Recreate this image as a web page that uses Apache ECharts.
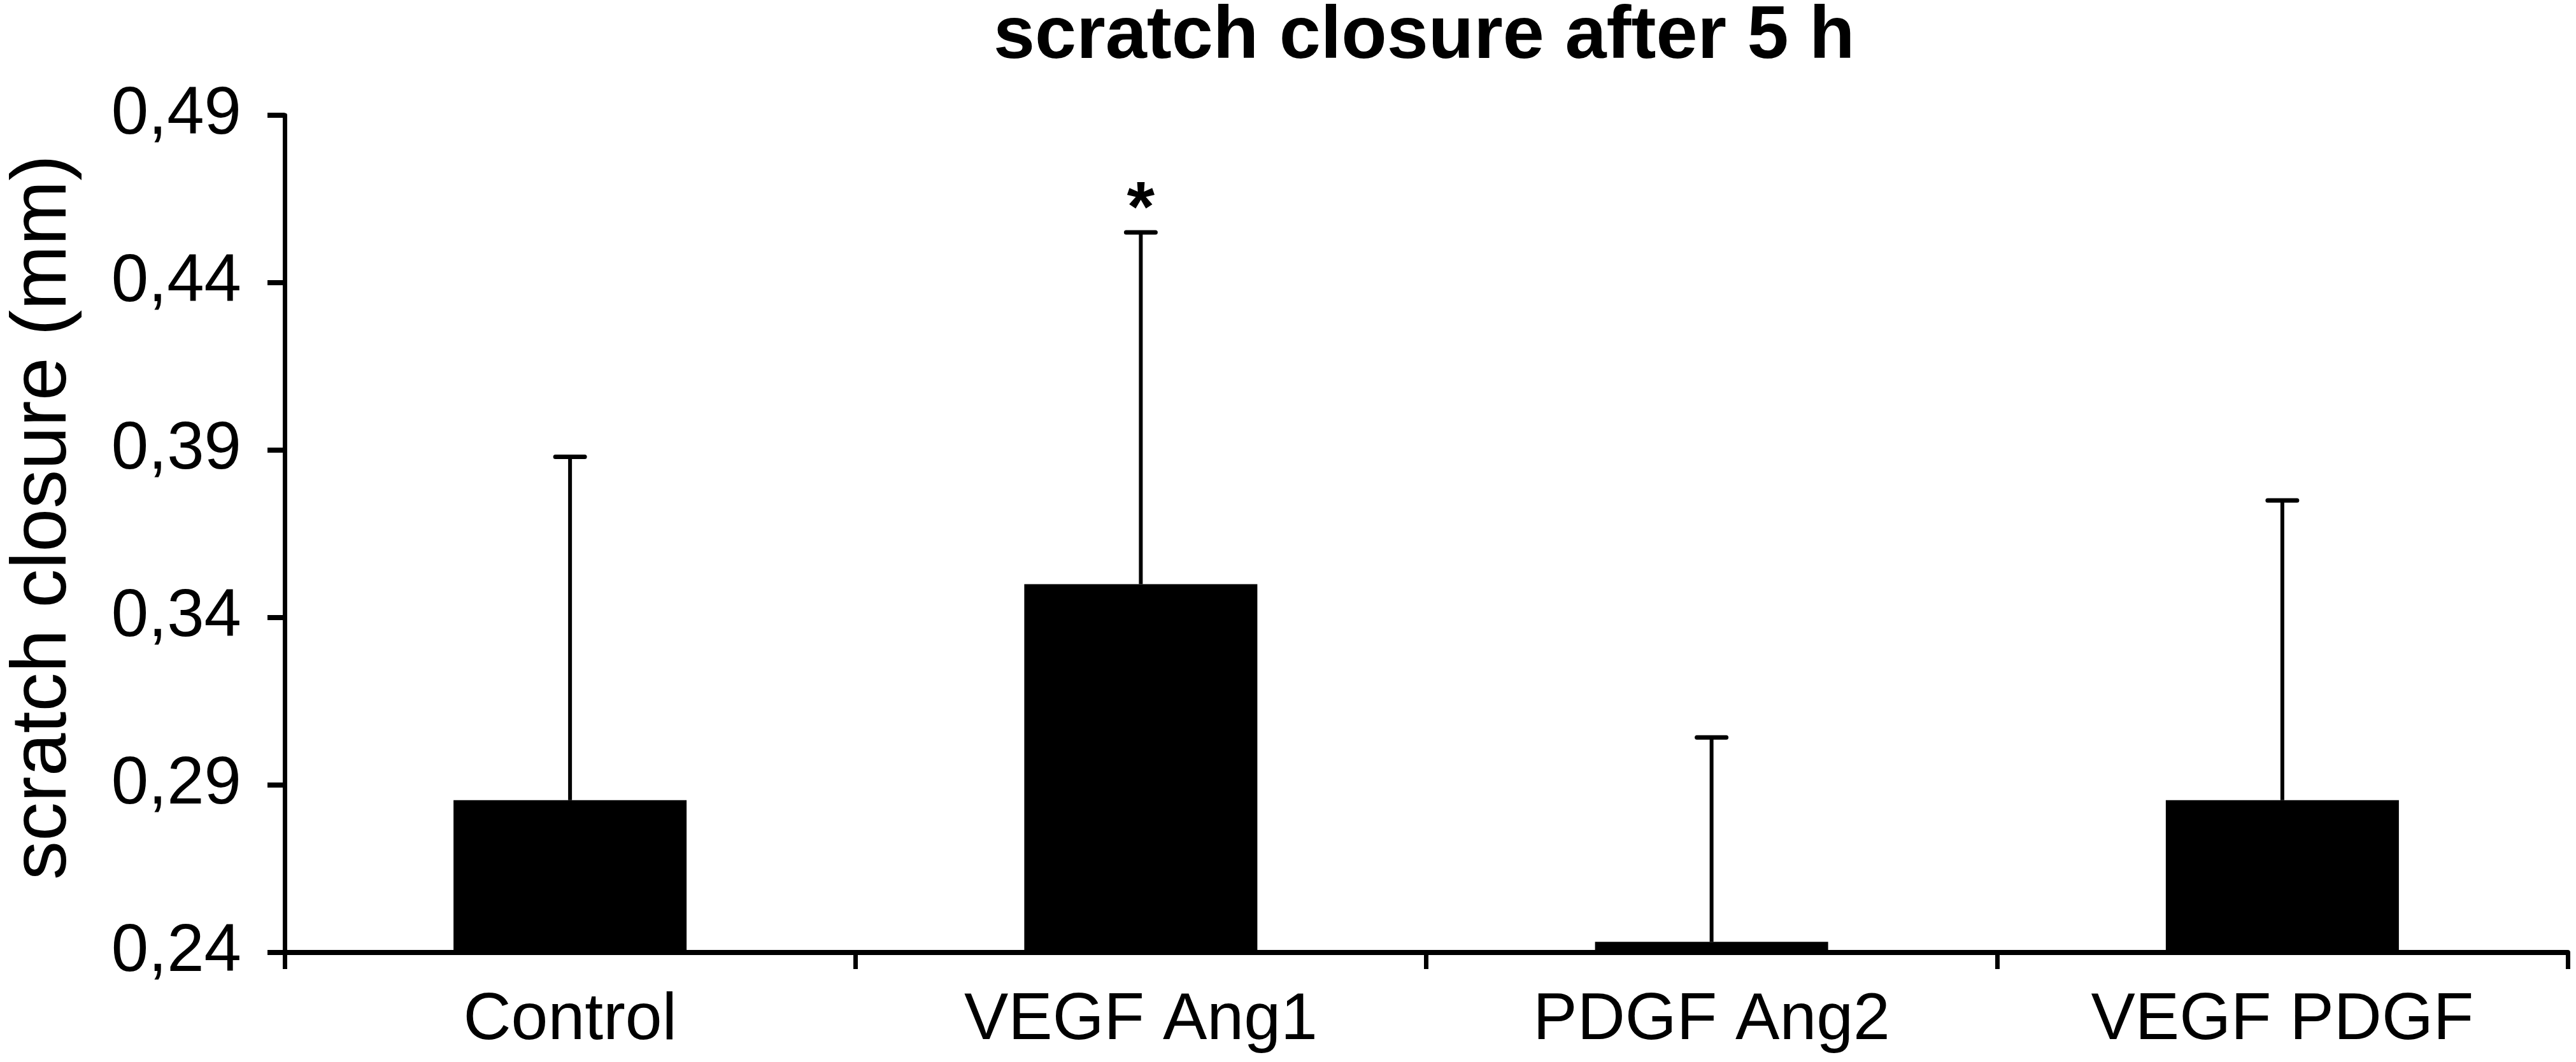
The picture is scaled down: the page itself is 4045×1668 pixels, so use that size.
<!DOCTYPE html>
<html>
<head>
<meta charset="utf-8">
<script src="https://cdn.jsdelivr.net/npm/echarts@6/dist/echarts.min.js"></script>
<style>
html,body{margin:0;padding:0;background:#fff;}
#chart{width:4045px;height:1668px;}
</style>
</head>
<body>
<div id="chart"></div>
<script>
// ---- data ----
var categories = ['Control', 'VEGF Ang1', 'PDGF Ang2', 'VEGF PDGF'];
var means = [0.2855, 0.350, 0.2432, 0.2855];
var errors = [0.1025, 0.105, 0.061, 0.0895];
var significance = ['', '*', '', ''];
var yTicks = [0.24, 0.29, 0.34, 0.39, 0.44, 0.49];
var titleText = 'scratch closure after 5 h';
var yAxisName = 'scratch closure (mm)';

var FONT = "'Liberation Sans', Arial, Helvetica, sans-serif";
var chart = echarts.init(document.getElementById('chart'), null, {renderer: 'canvas'});

var errData = means.map(function (m, i) { return [i, m, m + errors[i], significance[i]]; });

var option = {
  backgroundColor: '#ffffff',
  animation: false,
  title: {
    text: titleText,
    left: 1560,
    top: 0,
    padding: 0,
    textStyle: {fontFamily: FONT, fontSize: 117, fontWeight: 'bold', color: '#000'}
  },
  grid: {left: 435, right: 13, top: 181, bottom: 172, containLabel: false},
  xAxis: {
    type: 'category',
    data: categories,
    boundaryGap: true,
    axisLine: {lineStyle: {color: '#000', width: 8}},
    axisTick: {show: true, length: 26, lineStyle: {color: '#000', width: 7}, alignWithLabel: false},
    axisLabel: {fontFamily: FONT, fontSize: 104, color: '#000', margin: 55, interval: 0},
    splitLine: {show: false}
  },
  yAxis: {
    type: 'value',
    min: 0.24,
    max: 0.49,
    name: yAxisName,
    nameLocation: 'middle',
    nameGap: 317,
    nameTextStyle: {fontFamily: FONT, fontSize: 122, color: '#000', padding: [0, 0, 0, 52]},
    axisLine: {show: true, lineStyle: {color: '#000', width: 7}},
    axisTick: {show: true, length: 27, lineStyle: {color: '#000', width: 8}, customValues: yTicks},
    axisLabel: {
      fontFamily: FONT, fontSize: 105, color: '#000', margin: 68,
      customValues: yTicks,
      formatter: function (v) { return v.toFixed(2).replace('.', ','); }
    },
    splitLine: {show: false}
  },
  series: [
    {
      type: 'bar',
      data: means,
      barWidth: 366,
      itemStyle: {color: '#000'},
      z: 2
    },
    {
      type: 'custom',
      data: errData,
      z: 3,
      encode: {x: 0, y: [1, 2]},
      renderItem: function (params, api) {
        var i = api.value(0);
        var p0 = api.coord([i, api.value(1)]);
        var p1 = api.coord([i, api.value(2)]);
        var capHalf = 23;
        var children = [
          {type: 'line', shape: {x1: p0[0], y1: p0[1], x2: p1[0], y2: p1[1]},
           style: {stroke: '#000', lineWidth: 6}},
          {type: 'line', shape: {x1: p1[0] - capHalf, y1: p1[1], x2: p1[0] + capHalf, y2: p1[1]},
           style: {stroke: '#000', lineWidth: 7, lineCap: 'round'}}
        ];
        var sig = significance[params.dataIndex];
        if (sig) {
          children.push({
            type: 'text',
            style: {text: sig, x: p1[0], y: p1[1] - 33, align: 'center', verticalAlign: 'middle',
                    font: 'bold 112px ' + FONT, fill: '#000'}
          });
        }
        return {type: 'group', children: children};
      }
    }
  ]
};
chart.setOption(option);
</script>
</body>
</html>
